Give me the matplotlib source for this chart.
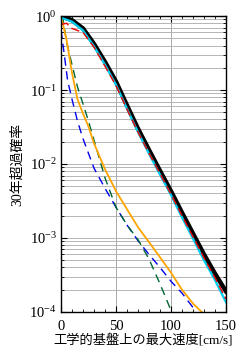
import numpy as np
import matplotlib
matplotlib.use('Agg')
import matplotlib.pyplot as plt
from matplotlib.ticker import LogLocator, MultipleLocator, NullFormatter

plt.rcParams['font.family'] = ['Liberation Serif', 'Noto Sans CJK JP']
plt.rcParams['mathtext.fontset'] = 'stix'

# velocity [cm/s]
v_total = [0, 10, 20, 30, 40, 50, 60, 70, 80, 90, 100, 110, 120, 130, 140, 150]
p_total = [1.0, 0.88, 0.68, 0.42, 0.24, 0.13, 0.062, 0.03, 0.0155, 0.0081, 0.0043,
           0.0022, 0.00115, 0.0006, 0.00033, 0.00019]
p_cyan = [0.95, 0.84, 0.64, 0.39, 0.22, 0.118, 0.056, 0.027, 0.0138, 0.0072, 0.0038,
          0.0019, 0.00098, 0.0005, 0.00027, 0.000135]
v_red = [0, 2, 5, 10, 20, 30, 40, 50, 60, 70, 80, 90, 100, 110, 120, 130, 140, 150]
p_red = [0.78, 0.78, 0.8, 0.68, 0.6, 0.38, 0.21, 0.115, 0.055, 0.027, 0.014, 0.0074,
         0.0039, 0.002, 0.00104, 0.00054, 0.00029, 0.00015]
v_green = [0, 2, 5, 10, 15, 20, 25, 30, 40, 50, 60, 70, 80, 90, 100, 102]
p_green = [1.0, 0.88, 0.45, 0.22, 0.11, 0.065, 0.038, 0.021, 0.0065, 0.0026, 0.0015,
           0.00095, 0.00052, 0.00024, 0.000105, 0.0001]
v_blue = [0, 3, 6, 10, 15, 20, 30, 40, 50, 60, 70, 80, 90, 100, 110, 120, 122]
p_blue = [0.65, 0.3, 0.135, 0.075, 0.038, 0.022, 0.0088, 0.0047, 0.0026, 0.0015,
          0.00092, 0.0006, 0.0004, 0.00026, 0.00018, 0.000115, 0.0001]
v_orange = [0, 5, 10, 15, 20, 25, 30, 40, 50, 60, 70, 80, 90, 100, 110, 120, 128]
p_orange = [1.0, 0.48, 0.17, 0.075, 0.048, 0.032, 0.019, 0.0085, 0.0043, 0.00245,
            0.0014, 0.00088, 0.00055, 0.00034, 0.0002, 0.00013, 0.0001]

fig = plt.figure(figsize=(2.47, 3.57), dpi=100)
ax = fig.add_axes([0.247, 0.126, 0.668, 0.829])

ax.plot(v_blue, p_blue, color='#0000ee', lw=1.0, ls=(0, (6, 4)))
ax.plot(v_green, p_green, color='#006633', lw=1.0, ls=(0, (6, 4)))
ax.plot(v_orange, p_orange, color='#ffa500', lw=1.3)
ax.plot(v_total, p_total, color='black', lw=3.2)
ax.plot(v_total, p_cyan, color='#00ccee', lw=1.6)
ax.plot(v_red, p_red, color='#ee0000', lw=1.0, ls=(0, (6, 3)))

ax.set_yscale('log')
ax.set_xlim(0, 150)
ax.set_ylim(1e-4, 1)
ax.xaxis.set_major_locator(MultipleLocator(50))
ax.xaxis.set_minor_locator(MultipleLocator(10))
ax.yaxis.set_major_locator(LogLocator(base=10, numticks=10))
ax.yaxis.set_minor_locator(LogLocator(base=10, subs=np.arange(2, 10), numticks=20))
ax.yaxis.set_minor_formatter(NullFormatter())
ax.grid(True, which='major', axis='x', color='#aaaaaa', lw=0.7)
ax.grid(True, which='both', axis='y', color='#aaaaaa', lw=0.6)
ax.set_axisbelow(True)
ax.tick_params(which='both', direction='in', top=True, right=True, labelsize=10.5, pad=3)
ax.tick_params(axis='x', which='major', pad=6)
ax.tick_params(which='major', length=4)
ax.tick_params(which='minor', length=2)
for s in ax.spines.values():
    s.set_linewidth(1.0)

ax.set_xlabel('工学的基盤上の最大速度[cm/s]', fontsize=9.5, labelpad=1)
ax.set_ylabel('30年超過確率', fontsize=10, labelpad=4)

fig.savefig('out.png', dpi=100)
